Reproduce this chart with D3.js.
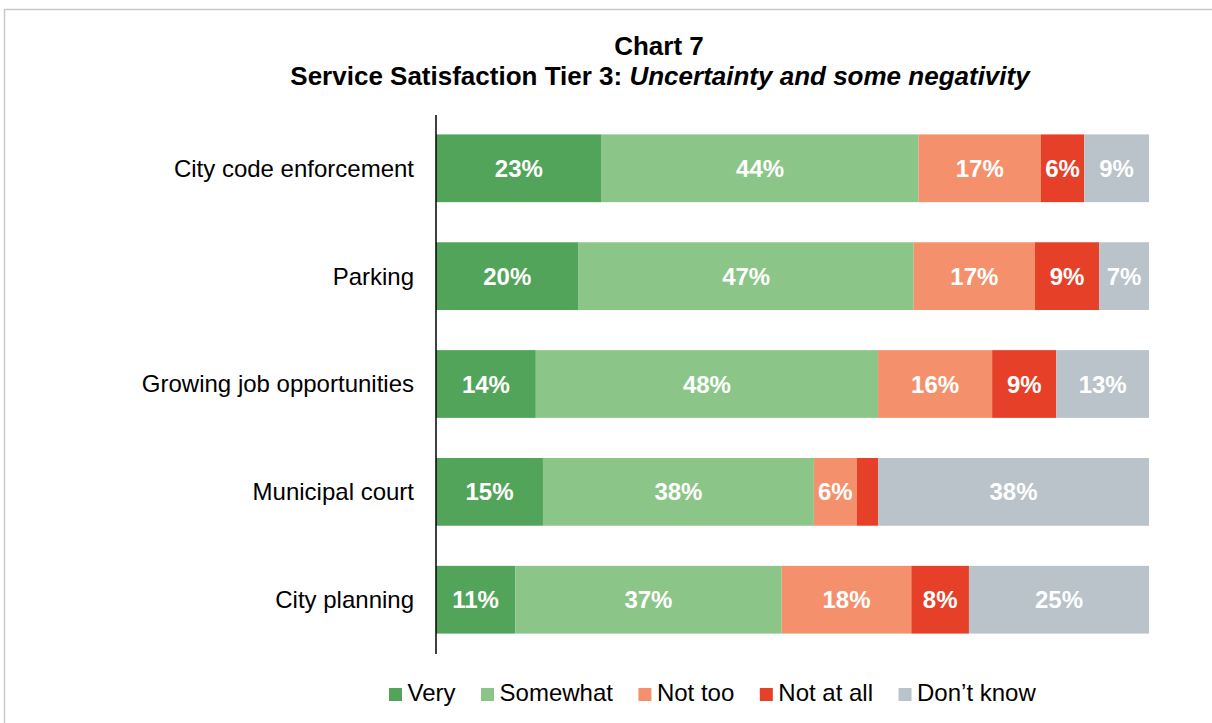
<!DOCTYPE html>
<html>
<head>
<meta charset="utf-8">
<script src="https://cdn.jsdelivr.net/npm/d3@7"></script>
<style>
  body { margin: 0; background: #fff; }
  svg { display: block; font-family: "Liberation Sans", Arial, sans-serif; }
</style>
</head>
<body>
<div id="container"></div>
<script>
// chart size
var width = 1212;
var height = 723;

//-----------------------------DATA------------------------------//
var categories = ["City code enforcement", "Parking", "Growing job opportunities", "Municipal court", "City planning"];
var seriesNames = ["Very", "Somewhat", "Not too", "Not at all", "Don\u2019t know"];
var colors = ["#52a45a", "#8bc688", "#f4916c", "#e64028", "#b9c3c9"];

var very = [23, 20, 14, 15, 11];
var somewhat = [44, 47, 48, 38, 37];
var notToo = [17, 17, 16, 6, 18];
var notAtAll = [6, 9, 9, 3, 8];
var dontKnow = [9, 7, 13, 38, 25];
// municipal court "not at all" has no label on the chart
var showLabel = [
    [true, true, true, true, true],
    [true, true, true, true, true],
    [true, true, true, true, true],
    [true, true, true, false, true],
    [true, true, true, true, true]
];

var rows = categories.map(function (c, i) {
    var r = { name: c, idx: i };
    var vals = [very[i], somewhat[i], notToo[i], notAtAll[i], dontKnow[i]];
    var total = d3.sum(vals);
    seriesNames.forEach(function (s, j) {
        r[s] = vals[j] / total * 100;   // 100% stacked, like the original
        r[s + "_raw"] = vals[j];
    });
    return r;
});

var svg = d3.select("div#container").append("svg")
    .attr("width", width)
    .attr("height", height);

// outer frame
svg.append("rect")
    .attr("x", 4.5)
    .attr("y", 9.5)
    .attr("width", width + 20)
    .attr("height", height + 20)
    .attr("fill", "none")
    .attr("stroke", "#c3cad2")
    .attr("stroke-width", 1.5);

//----------------------------SCALES-----------------------------//
var xScale = d3.scaleLinear().domain([0, 100]).range([436, 1149]);
var yScale = d3.scaleBand()
    .domain(categories)
    .range([115, 653])
    .paddingInner(0.372)
    .paddingOuter(0.18);

//-----------------------------TITLE------------------------------//
svg.append("text")
    .attr("x", 659)
    .attr("y", 55)
    .style("text-anchor", "middle")
    .style("font-size", "26px")
    .style("font-weight", "bold")
    .text("Chart 7");

var sub = svg.append("text")
    .attr("x", 660)
    .attr("y", 85)
    .style("text-anchor", "middle")
    .style("font-size", "26px")
    .style("font-weight", "bold");
sub.append("tspan").text("Service Satisfaction Tier 3: ");
sub.append("tspan").style("font-style", "italic").text("Uncertainty and some negativity");

//----------------------------BARS------------------------------//
var stack = d3.stack().keys(seriesNames);
var stacked = stack(rows);

var groups = svg.selectAll(".serie")
    .data(stacked)
    .enter().append("g")
    .attr("class", "serie")
    .attr("fill", function (d, i) { return colors[i]; });

groups.selectAll("rect")
    .data(function (d) { return d; })
    .enter().append("rect")
    .attr("x", function (d) { return xScale(d[0]); })
    .attr("y", function (d) { return yScale(d.data.name); })
    .attr("width", function (d) { return xScale(d[1]) - xScale(d[0]); })
    .attr("height", yScale.bandwidth());

groups.each(function (s, j) {
    d3.select(this).selectAll("text")
        .data(s.filter(function (d) { return showLabel[d.data.idx][j]; }))
        .enter().append("text")
        .attr("x", function (d) { return (xScale(d[0]) + xScale(d[1])) / 2; })
        .attr("y", function (d) { return yScale(d.data.name) + yScale.bandwidth() / 2 + 8.5; })
        .style("text-anchor", "middle")
        .style("font-size", "24px")
        .style("font-weight", "bold")
        .style("fill", "white")
        .text(function (d) { return d.data[s.key + "_raw"] + "%"; });
});

//-----------------------------AXIS------------------------------//
var yaxis = d3.axisLeft(yScale).tickSize(0).tickPadding(22);
var ag = svg.append("g")
    .attr("transform", "translate(436,0)")
    .call(yaxis);
ag.select(".domain").remove();
ag.selectAll("text")
    .style("font-size", "24px")
    .style("font-family", "Liberation Sans, Arial, sans-serif")
    .style("fill", "#000")
    .attr("dy", "0.35em");

svg.append("line")
    .attr("x1", 436).attr("x2", 436)
    .attr("y1", 115).attr("y2", 654)
    .attr("stroke", "#000")
    .attr("stroke-width", 1.5);

//----------------------------LEGEND------------------------------//
var legend = svg.append("g").attr("class", "legend");
var lx = 389;
seriesNames.forEach(function (s, i) {
    legend.append("rect")
        .attr("x", lx)
        .attr("y", 688)
        .attr("width", 13)
        .attr("height", 13)
        .attr("fill", colors[i]);
    var t = legend.append("text")
        .attr("x", lx + 18.5)
        .attr("y", 701)
        .style("font-size", "24px")
        .style("fill", "#000")
        .text(s);
    lx += 18.5 + t.node().getComputedTextLength() + 25.5;
});
</script>
</body>
</html>
